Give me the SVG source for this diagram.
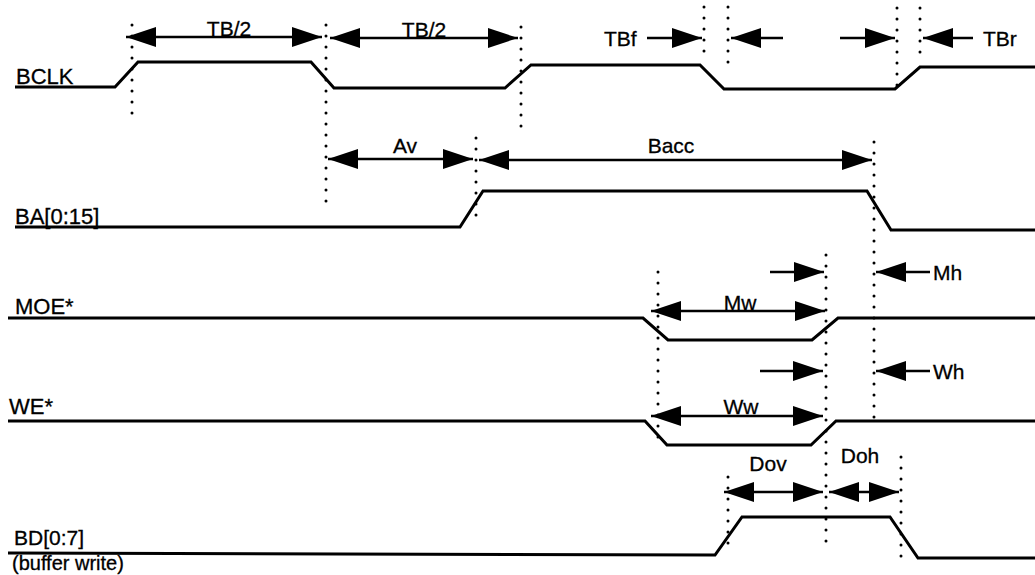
<svg xmlns="http://www.w3.org/2000/svg" width="1035" height="575" viewBox="0 0 1035 575">
<style>
.sig{fill:none;stroke:#000;stroke-width:3;stroke-linejoin:miter}
.dot{fill:none;stroke:#000;stroke-width:3;stroke-linecap:round;stroke-dasharray:0 11}
.dim{fill:none;stroke:#000;stroke-width:2.5}
.lbl{font-family:"Liberation Sans",Arial,sans-serif;font-size:22px;fill:#000;stroke:#000;stroke-width:0.3}
.tl{font-family:"Liberation Sans",Arial,sans-serif;font-size:21px;fill:#000;stroke:#000;stroke-width:0.3}
</style>
<defs>
<marker id="ah" markerUnits="userSpaceOnUse" markerWidth="30" markerHeight="20" refX="30" refY="10" orient="auto-start-reverse">
<path d="M0,0 L30,10 L0,20 Z" fill="#000"/>
</marker>
</defs>
<rect width="1035" height="575" fill="#fff"/>

<g id="guides">
<line class="dot" x1="132" y1="25" x2="132" y2="118"/>
<line class="dot" x1="326" y1="25" x2="326" y2="202"/>
<line class="dot" x1="521" y1="27" x2="521" y2="132"/>
<line class="dot" x1="704" y1="7" x2="704" y2="62"/>
<line class="dot" x1="728" y1="7" x2="728" y2="72"/>
<line class="dot" x1="897" y1="8" x2="897" y2="92"/>
<line class="dot" x1="920" y1="8" x2="920" y2="63"/>
<line class="dot" x1="476" y1="138" x2="476" y2="225"/>
<line class="dot" x1="874" y1="142" x2="874" y2="421"/>
<line class="dot" x1="658" y1="272" x2="658" y2="448"/>
<line class="dot" x1="826" y1="255" x2="826" y2="542"/>
<line class="dot" x1="728" y1="477" x2="728" y2="550"/>
<line class="dot" x1="901" y1="457" x2="901" y2="562"/>
</g>

<g id="BCLK">
<polyline class="sig" points="15,87 115,87 138,62 311,62 334,88 505,88 531,65 700,65 724,89 895,89 920,67 1035,67"/>
<text class="lbl" x="16" y="84">BCLK</text>
</g>
<g id="BA">
<polyline class="sig" points="15,227 460,227 483,191 867,191 891,230 1035,230"/>
<text class="lbl" x="15" y="224">BA[0:15]</text>
</g>
<g id="MOE">
<polyline class="sig" points="8,318 643,318 668,340 812,340 838,318 1035,318"/>
<text class="lbl" x="15" y="314">MOE*</text>
</g>
<g id="WE">
<polyline class="sig" points="8,421 645,421 667,445 811,445 836,421 1035,421"/>
<text class="lbl" x="9" y="414">WE*</text>
</g>
<g id="BD">
<polyline class="sig" points="8,553 715,555 742,517 890,517 918,558 1035,558"/>
<text class="lbl" x="14" y="545" style="font-size:21px">BD[0:7]</text>
<text class="lbl" x="12" y="570" style="font-size:20px">(buffer write)</text>
</g>

<g id="connectors">
<line class="dim" x1="126" y1="37" x2="322" y2="37" marker-start="url(#ah)" marker-end="url(#ah)"/>
<line class="dim" x1="330" y1="38" x2="518" y2="38" marker-start="url(#ah)" marker-end="url(#ah)"/>
<line class="dim" x1="647" y1="38" x2="702" y2="38" marker-end="url(#ah)"/>
<line class="dim" x1="783" y1="38" x2="731" y2="38" marker-end="url(#ah)"/>
<line class="dim" x1="840" y1="38" x2="895" y2="38" marker-end="url(#ah)"/>
<line class="dim" x1="973" y1="38" x2="923" y2="38" marker-end="url(#ah)"/>
<line class="dim" x1="328" y1="159" x2="473" y2="159" marker-start="url(#ah)" marker-end="url(#ah)"/>
<line class="dim" x1="479" y1="160" x2="872" y2="160" marker-start="url(#ah)" marker-end="url(#ah)"/>
<line class="dim" x1="770" y1="272" x2="824" y2="272" marker-end="url(#ah)"/>
<line class="dim" x1="930" y1="272" x2="876" y2="272" marker-end="url(#ah)"/>
<line class="dim" x1="651" y1="311" x2="825" y2="311" marker-start="url(#ah)" marker-end="url(#ah)"/>
<line class="dim" x1="760" y1="371" x2="823" y2="371" marker-end="url(#ah)"/>
<line class="dim" x1="930" y1="371" x2="876" y2="371" marker-end="url(#ah)"/>
<line class="dim" x1="651" y1="416" x2="823" y2="416" marker-start="url(#ah)" marker-end="url(#ah)"/>
<line class="dim" x1="724" y1="492" x2="823" y2="492" marker-start="url(#ah)" marker-end="url(#ah)"/>
<line class="dim" x1="829" y1="492" x2="899" y2="492" marker-start="url(#ah)" marker-end="url(#ah)"/>
</g>

<g id="labels">
<text class="tl" x="229" y="36" text-anchor="middle">TB/2</text>
<text class="tl" x="424" y="37" text-anchor="middle">TB/2</text>
<text class="tl" x="604" y="46">TBf</text>
<text class="tl" x="983" y="46">TBr</text>
<text class="tl" x="405" y="153" text-anchor="middle">Av</text>
<text class="tl" x="671" y="153" text-anchor="middle">Bacc</text>
<text class="tl" x="933" y="280">Mh</text>
<text class="tl" x="740" y="310" text-anchor="middle">Mw</text>
<text class="tl" x="933" y="379">Wh</text>
<text class="tl" x="741" y="414" text-anchor="middle">Ww</text>
<text class="tl" x="768" y="471" text-anchor="middle">Dov</text>
<text class="tl" x="860" y="463" text-anchor="middle">Doh</text>
</g>
</svg>
